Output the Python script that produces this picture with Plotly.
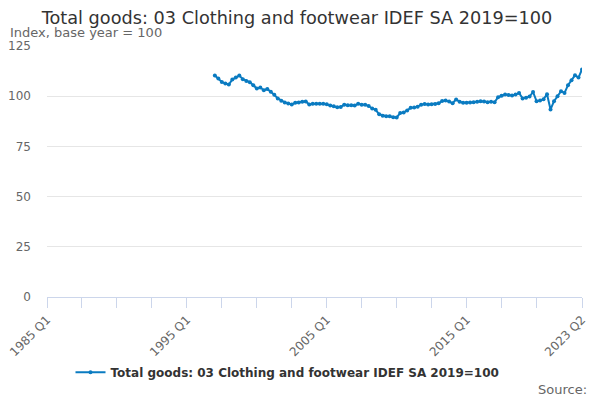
import plotly.graph_objects as go

# Quarter labels 1985 Q1 .. 2023 Q2
quarters = [f"{y} Q{q}" for y in range(1985, 2024) for q in range(1, 5)][:154]

series_name = "Total goods: 03 Clothing and footwear IDEF SA 2019=100"
start_label = "1997 Q1"
values = [
    110.3, 108.8, 107.1, 106.3,   # 1997
    105.8, 108.3, 109.3, 110.3,   # 1998
    108.5, 107.6, 107.0, 105.5,   # 1999
    103.8, 104.3, 103.0, 103.6,   # 2000
    102.2, 100.7, 98.9, 97.7,     # 2001
    96.9, 96.4, 95.9, 96.7,       # 2002
    96.9, 97.2, 97.4, 95.9,       # 2003
    96.2, 96.2, 96.2, 96.2,       # 2004
    96.0, 95.4, 95.0, 94.5,       # 2005
    94.6, 95.8, 95.5, 95.5,       # 2006
    95.4, 96.2, 95.7, 95.7,       # 2007
    95.1, 93.9, 93.2, 91.0,       # 2008
    90.3, 90.0, 90.0, 89.5,       # 2009
    89.4, 91.6, 91.9, 92.9,       # 2010
    94.2, 94.4, 94.8, 95.8,       # 2011
    96.1, 95.9, 96.0, 96.1,       # 2012
    96.5, 97.6, 97.9, 97.3,       # 2013
    96.5, 98.4, 97.2, 96.7,       # 2014
    96.7, 96.9, 97.0, 97.2,       # 2015
    97.5, 97.4, 97.0, 97.2,       # 2016
    97.0, 99.5, 100.2, 100.8,     # 2017
    100.6, 100.4, 100.8, 101.6,   # 2018
    98.9, 99.2, 99.8, 102.1,      # 2019
    97.5, 97.8, 98.5, 101.0,      # 2020
    93.4, 97.5, 100.0, 102.5,     # 2021
    101.6, 105.5, 108.0, 110.4,   # 2022
    109.3, 113.3,                 # 2023
]

tick_labels = ["1985 Q1", "1995 Q1", "2005 Q1", "2015 Q1", "2023 Q2"]
y_ticks = [0, 25, 50, 75, 100, 125]

start = quarters.index(start_label)
x_idx = list(range(start, start + len(values)))

tickvals = list(range(0, 150, 10)) + [len(quarters) - 1]
ticktext = [quarters[i] if quarters[i] in tick_labels else "" for i in tickvals]

FONT = "DejaVu Sans"
LINE_COLOR = "#0a7bc1"
PW, PH = 535, 251  # plot area size in px

fig = go.Figure()
fig.add_trace(go.Scatter(
    x=x_idx, y=values, mode="lines+markers", name=series_name,
    line=dict(color=LINE_COLOR, width=2),
    marker=dict(color=LINE_COLOR, size=4),
    customdata=[quarters[i] for i in x_idx],
    hovertemplate="%{customdata}: %{y}<extra></extra>",
))

fig.update_layout(
    width=600, height=400,
    margin=dict(l=47, r=18, t=46, b=103, autoexpand=False),
    paper_bgcolor="white", plot_bgcolor="white",
    font=dict(family=FONT, color="#666666", size=12),
    title=dict(text="Total goods: 03 Clothing and footwear IDEF SA 2019=100",
               x=0.495, xanchor="center", y=0.955, yanchor="middle",
               font=dict(family=FONT, size=17.7, color="#333333")),
    showlegend=True,
    legend=dict(orientation="h", x=0.5 - 27/PW, xanchor="center", y=-0.30, yanchor="middle",
                font=dict(family=FONT, size=12, color="#333333", weight="bold")),
    xaxis=dict(range=[0, len(quarters) - 1], tickmode="array", tickvals=tickvals,
               ticktext=ticktext, tickangle=-45, showgrid=False, zeroline=False,
               showline=True, linecolor="#ccd6eb", linewidth=1,
               ticks="outside", ticklen=10, tickcolor="#ccd6eb", automargin=False,
               tickfont=dict(size=12, color="#666666")),
    yaxis=dict(range=[0, 125], tickvals=y_ticks, showgrid=True, gridcolor="#e6e6e6",
               zeroline=False, showline=False, ticklabelstandoff=15, automargin=False,
               tickfont=dict(size=12, color="#666666")),
    annotations=[
        dict(text="Index, base year = 100", xref="paper", yref="paper",
             x=-39/PW, xanchor="left", y=1 + 14/PH, yanchor="middle",
             showarrow=False, font=dict(size=13, color="#666666")),
        dict(text="Source:", xref="paper", yref="paper",
             x=1 + 7/PW, xanchor="right", y=-92/PH, yanchor="middle",
             showarrow=False, font=dict(size=13, color="#666666")),
    ],
)

fig.write_html("out.html", config={"displayModeBar": False},
               post_script="document.body.style.margin='0';document.body.style.overflow='hidden';")
